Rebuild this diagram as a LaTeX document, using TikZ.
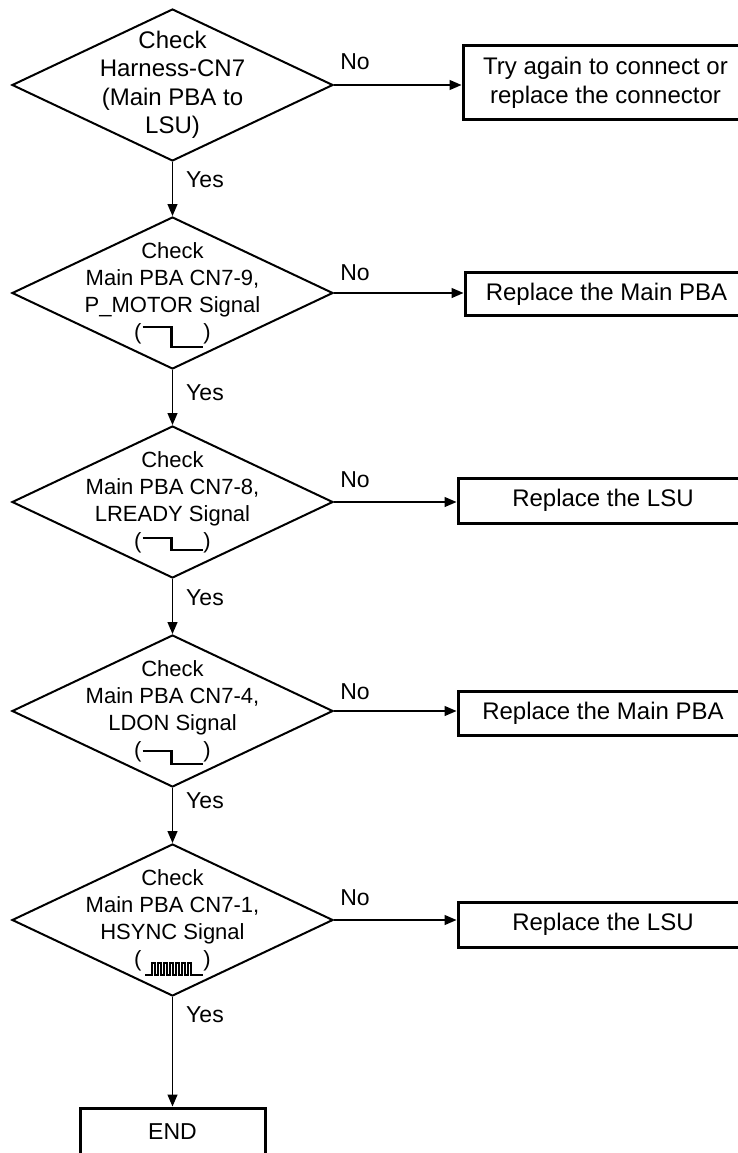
\documentclass[tikz,border=0pt]{standalone}
\usepackage{fontspec}
\setmainfont{Liberation Sans}
\usetikzlibrary{shapes.geometric,arrows.meta}

\begin{document}
\begin{tikzpicture}[x=1pt,y=-1pt,
  chk/.style={diamond,draw,line width=2pt,minimum width=321pt,minimum height=152pt,inner sep=0pt},
  act/.style={draw,line width=3pt,minimum width=290pt,inner sep=0pt,align=center,font=\fontsize{24pt}{29pt}\selectfont},
  txt/.style={align=center,inner sep=0pt,font=\fontsize{22pt}{27pt}\selectfont},
  lbl/.style={inner sep=0pt,font=\fontsize{23pt}{27pt}\selectfont},
  flow/.style={line width=1.3pt,-{Triangle[length=12pt,width=10pt]}},
  sig/.style={line width=2.5pt},
  pls/.style={line width=1.2pt}]
  \useasboundingbox (0,0) rectangle (737,1153);
  % ---------------- checks ----------------
  \node[chk] (d1) at (172.5,85) {};
  \node[txt,font=\fontsize{24pt}{28.5pt}\selectfont] (t1) at (d1.center) {Check\\Harness-CN7\\(Main PBA to\\LSU)};
  \foreach \i/\y/\pin/\sg in {2/293/9/P\_MOTOR,3/502/8/LREADY,4/711/4/LDON,5/920/1/HSYNC}{
    \node[chk] (d\i) at (172.5,\y) {};
    \node[txt] (t\i) at (d\i.center) {Check\\Main PBA CN7-\pin,\\\sg{} Signal\\(\hspace{62pt})};
  }
  % signal shapes
  \foreach \i/\hi/\lo in {2/34/54,3/36/48,4/40/53}
    \draw[sig,shift={(d\i.center)}] (-30,\hi) -- (-1,\hi) -- (-1,\lo) -- (30,\lo);
  \draw[pls,shift={(d5.center)}] (-27.5,55) -- ++(7,0)
    foreach \k in {1,...,7}{ -- ++(0,-12) -- ++(3,0) -- ++(0,12) -- ++(3,0)} -- ++(9,0);
  % ---------------- actions ----------------
  \node[act,minimum width=285pt,minimum height=74pt] (b1) at (605.5,83) {Try again to connect or\\replace the connector};
  \node[act,minimum width=283pt,minimum height=43pt] (b2) at (606.5,294) {Replace the Main PBA};
  \node[act,minimum height=45pt] (b3) at (603,500.5) {Replace the LSU};
  \node[act,minimum height=44pt] (b4) at (603,713) {Replace the Main PBA};
  \node[act,minimum height=45pt] (b5) at (603,924.5) {Replace the LSU};
  \node[act,minimum width=185pt,text height=26pt,text depth=40pt,inner ysep=5pt,anchor=base,
        font=\fontsize{23pt}{27pt}\selectfont] (end) at (172.5,1139) {END};
  % ---------------- flow ----------------
  \foreach \i [count=\j from 2] in {1,...,4}
    \draw[flow] (d\i.south) -- (d\j.north);
  \draw[flow] (d5.south) -- (end.north);
  \foreach \i in {1,...,5}
    \draw[flow] (d\i.east) -- (d\i.east -| b\i.west);
  \foreach \i/\y in {1/180,2/393,3/598,4/801,5/1015}
    \node[lbl] (y\i) at (205,\y) {Yes};
  \foreach \i/\y in {1/62,2/273,3/480,4/692,5/898}
    \node[lbl] (n\i) at (355,\y) {No};
\end{tikzpicture}
\end{document}
